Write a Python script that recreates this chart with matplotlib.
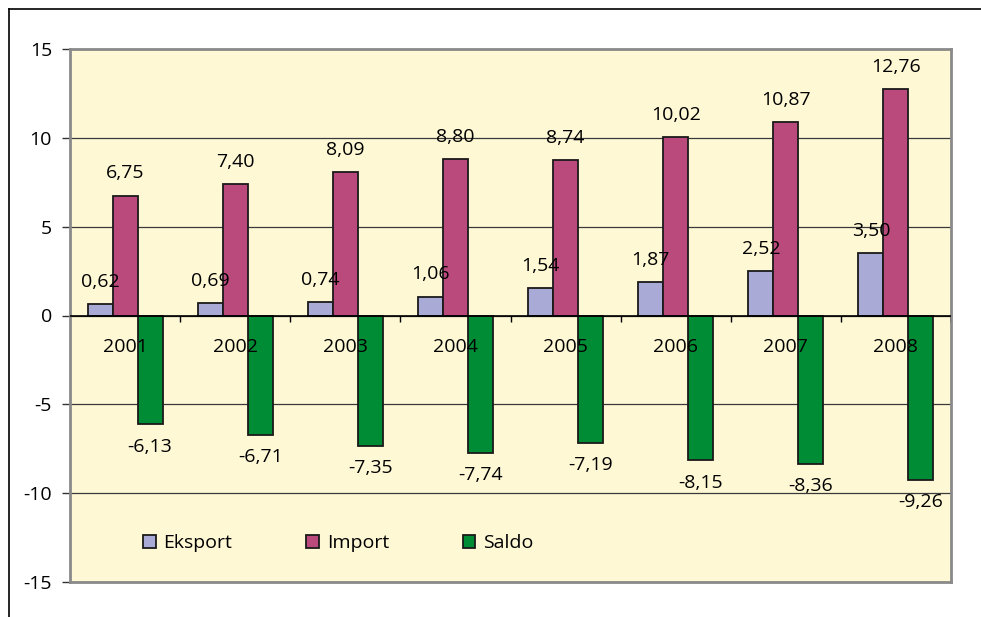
import numpy as np
from matplotlib import pyplot as plt
from matplotlib.lines import Line2D
from matplotlib.patches import Patch

plt.rcParams['font.family'] = ['Open Sans', 'DejaVu Sans']
plt.rcParams['font.size'] = 14
plt.rcParams['axes.unicode_minus'] = False

years = ['2001', '2002', '2003', '2004', '2005', '2006', '2007', '2008']
eksport = [0.62, 0.69, 0.74, 1.06, 1.54, 1.87, 2.52, 3.50]
imports = [6.75, 7.40, 8.09, 8.80, 8.74, 10.02, 10.87, 12.76]
saldo = [-6.13, -6.71, -7.35, -7.74, -7.19, -8.15, -8.36, -9.26]

series = [('Eksport', eksport, '#a9abd6'),
          ('Import', imports, '#bb4a7c'),
          ('Saldo', saldo, '#008b35')]

fig = plt.figure(figsize=(9.81, 6.17), dpi=100)
ax = fig.add_axes([70/981, 1 - 582/617, 881/981, 533/617])
ax.set_facecolor('#fef8d5')

x = np.arange(len(years))
w = 0.227
for k, (name, vals, col) in enumerate(series):
    xs = x + (k - 1) * w
    ax.bar(xs, vals, width=w, color=col, edgecolor='#1a1a1a', linewidth=1.3, zorder=3)
    for xi, v in zip(xs, vals):
        off = 16 if v >= 0 else -16
        ax.annotate(f'{v:.2f}'.replace('.', ','), (xi, v), xytext=(0, off),
                    textcoords='offset points', ha='center', va='center', zorder=5)

for xi, yr in zip(x, years):
    ax.text(xi, -1.8, yr, ha='center', va='center', zorder=6)

ax.axhline(0, color='black', lw=1.2, zorder=4)
ax.vlines(np.arange(len(years)) + 0.5, -0.35, 0, color='black', lw=1.0, zorder=4)

ax.set_xlim(-0.5, len(years) - 0.5)
ax.set_ylim(-15, 15)
ax.set_yticks([-15, -10, -5, 0, 5, 10, 15])
ax.set_xticks([])
ax.yaxis.grid(True, color='#3a3a3a', lw=0.9, zorder=1)
ax.set_axisbelow(True)
ax.tick_params(axis='y', direction='out', length=6, width=1, color='#333333', pad=7)

for s in ax.spines.values():
    s.set_color('#8a8a8a')
    s.set_linewidth(2)

handles = [Patch(facecolor=c, edgecolor='#1a1a1a', linewidth=1.3, label=n) for n, _, c in series]
ax.legend(handles=handles, loc='center left', bbox_to_anchor=(0.083, 0.073), ncol=3,
          frameon=False, handlelength=0.65, handleheight=0.65, handletextpad=0.4,
          columnspacing=3.8, borderpad=0, borderaxespad=0)

# outer frame
fig.add_artist(Line2D([9/981, 1], [1 - 9/617, 1 - 9/617], color='black', lw=1.2, transform=fig.transFigure))
fig.add_artist(Line2D([9/981, 9/981], [1 - 9/617, 0], color='black', lw=1.2, transform=fig.transFigure))

fig.savefig('out.png', dpi=100)
